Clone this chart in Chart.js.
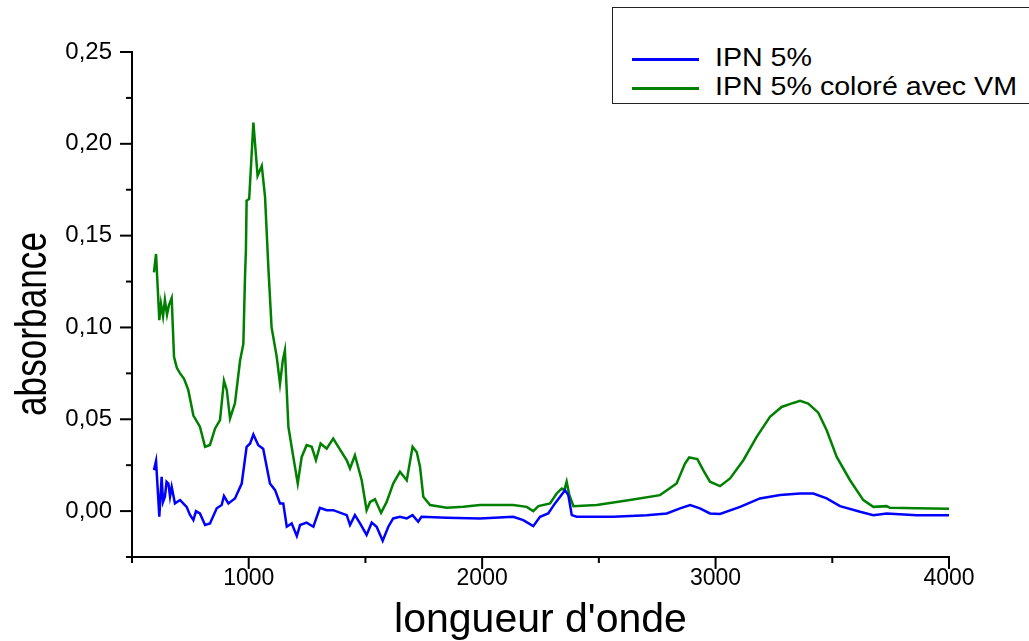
<!DOCTYPE html>
<html>
<head>
<meta charset="utf-8">
<script src="https://cdn.jsdelivr.net/npm/chart.js@4/dist/chart.umd.min.js"></script>
<style>
  body { margin: 0; background: #fff; overflow: hidden; }
  #wrap { position: relative; width: 1029px; height: 641px; }
  #legend {
    position: absolute; left: 612px; top: 7px; width: 440px; height: 97px;
    border: 1px solid #222; background: #fff; box-sizing: border-box;
    padding-top: 37px; font-family: "Liberation Sans", Arial, sans-serif; font-size: 26px;
  }
  .row { display: flex; align-items: center; height: 29px; }
  .swatch { margin-left: 19px; width: 67px; height: 3px; margin-right: 16px; }
  .label { position: relative; top: -2px; display: inline-block; transform: scaleX(1.1); transform-origin: left center; white-space: nowrap; }
</style>
</head>
<body>
<div id="wrap">
  <canvas id="chart" width="1029" height="641"></canvas>
  <div id="legend"></div>
</div>
<script>
// ---- data ----
const seriesNames = ["IPN 5%", "IPN 5% coloré avec VM"];
const seriesColors = ["#0000ff", "#008000"];

const ipnX = [594, 603, 617, 627, 633, 641, 648, 656, 663, 670,
  684, 706, 734, 748, 763, 774, 791, 813, 834, 863,
  884, 894, 913, 941, 970, 991, 1006, 1020, 1041, 1062,
  1091, 1113, 1134, 1148, 1163, 1184, 1206, 1220, 1248, 1277,
  1305, 1334, 1362, 1420, 1434, 1455, 1477, 1505, 1527, 1548,
  1574, 1598, 1619, 1648, 1677, 1702, 1726, 1740, 1848, 1991,
  2133, 2176, 2219, 2248, 2283, 2312, 2334, 2355, 2369, 2384,
  2405, 2562, 2705, 2791, 2848, 2891, 2933, 2976, 3019, 3105,
  3190, 3276, 3362, 3419, 3476, 3533, 3619, 3676, 3733, 3862, 4000];
const ipnY = [0.0223, 0.0273, -0.003, 0.0186, 0.005, 0.0078, 0.016, 0.015, 0.008, 0.0132,
  0.0042, 0.006, 0.0023, -0.002, -0.0049, 0.000, -0.0013, -0.0076, -0.0067, 0.0015,
  0.0033, 0.0082, 0.0042, 0.0069, 0.015, 0.035, 0.0368, 0.0417, 0.0359, 0.034,
  0.015, 0.0114, 0.0042, 0.0042, -0.0085, -0.0067, -0.0136, -0.0076, -0.0063, -0.0085,
  0.0018, 0.0005, 0.0005, -0.0022, -0.0076, -0.0022, -0.0067, -0.013, -0.0063, -0.0085,
  -0.0161, -0.0085, -0.004, -0.0031, -0.004, -0.0022, -0.0058, -0.0031, -0.0036, -0.004,
  -0.0031, -0.0049, -0.0082, -0.0031, -0.0013, 0.0042, 0.0078, 0.0114, 0.0087, -0.0022,
  -0.0031, -0.0031, -0.0022, -0.0013, 0.0015, 0.0033, 0.0015, -0.0013, -0.0016, 0.0023,
  0.0069, 0.0087, 0.0096, 0.0096, 0.0069, 0.0027, -0.0004, -0.0022, -0.0013, -0.0022, -0.0023];

const vmX = [594, 603, 617, 624, 633, 641, 650, 658, 670, 680,
  692, 706, 723, 741, 763, 791, 813, 834, 856, 877,
  894, 906, 920, 941, 963, 977, 984, 988, 991, 1002,
  1020, 1038, 1056, 1070, 1084, 1098, 1120, 1134, 1146, 1155,
  1170, 1191, 1210, 1227, 1248, 1270, 1288, 1308, 1334, 1362,
  1384, 1420, 1434, 1455, 1484, 1505, 1520, 1541, 1567, 1591,
  1619, 1648, 1677, 1702, 1720, 1734, 1748, 1777, 1848, 1919,
  1991, 2062, 2133, 2191, 2219, 2241, 2291, 2319, 2341, 2352,
  2362, 2373, 2391, 2491, 2633, 2762, 2833, 2869, 2887, 2922,
  2947, 2976, 3019, 3062, 3119, 3176, 3233, 3283, 3333, 3362,
  3397, 3440, 3476, 3519, 3576, 3633, 3676, 3733, 3747, 3862, 4000];
const vmY = [0.130, 0.140, 0.104, 0.113, 0.106, 0.115, 0.107, 0.112, 0.116, 0.084,
  0.078, 0.075, 0.072, 0.066, 0.052, 0.046, 0.035, 0.036, 0.045, 0.0495,
  0.071, 0.066, 0.0505, 0.0587, 0.082, 0.091, 0.127, 0.142, 0.169, 0.170,
  0.2116, 0.1826, 0.188, 0.171, 0.133, 0.100, 0.084, 0.0694, 0.082, 0.0875,
  0.0458, 0.0295, 0.015, 0.0295, 0.0359, 0.035, 0.0277, 0.0368, 0.034, 0.0395,
  0.035, 0.0277, 0.0232, 0.0304, 0.0168, 0.0005, 0.005, 0.0064, -0.001, 0.005,
  0.015, 0.0214, 0.0168, 0.035, 0.032, 0.024, 0.0078, 0.0033, 0.0018, 0.0023,
  0.0033, 0.0033, 0.0033, 0.0023, 0.0, 0.0027, 0.0042, 0.0096, 0.0123, 0.0114,
  0.016, 0.009, 0.0027, 0.0033, 0.006, 0.0087, 0.015, 0.0259, 0.0292, 0.0283,
  0.0223, 0.016, 0.0136, 0.0178, 0.0277, 0.0404, 0.0513, 0.0567, 0.0589, 0.060,
  0.0585, 0.0536, 0.044, 0.0295, 0.0168, 0.006, 0.0023, 0.0027, 0.0018, 0.0015, 0.0013];

const xTitle = "longueur d'onde";
const yTitle = "absorbance";
const font = "'Liberation Sans', Arial, sans-serif";

function toPoints(xs, ys) {
  return xs.map((x, i) => ({ x: x, y: ys[i] }));
}

// legend box (top right, runs off the edge like the original)
const legend = document.getElementById("legend");
seriesNames.forEach((name, i) => {
  const row = document.createElement("div");
  row.className = "row";
  row.innerHTML = '<span class="swatch" style="background:' + seriesColors[i] + '"></span><span class="label">' + name + '</span>';
  legend.appendChild(row);
});

// tick marks (major / minor) + rotated y title
const axisDecor = {
  id: "axisDecor",
  afterDraw(chart) {
    const { ctx, chartArea, scales: { x, y } } = chart;
    ctx.save();
    ctx.strokeStyle = "#000";
    ctx.lineWidth = 2;
    x.ticks.forEach(t => {
      const px = x.getPixelForValue(t.value);
      const len = Math.round(t.value) % 1000 === 0 ? 12 : 6;
      ctx.beginPath();
      ctx.moveTo(px, chartArea.bottom);
      ctx.lineTo(px, chartArea.bottom + len);
      ctx.stroke();
    });
    y.ticks.forEach(t => {
      const py = y.getPixelForValue(t.value);
      const len = Math.round(t.value * 1000) % 50 === 0 ? 12 : 6;
      ctx.beginPath();
      ctx.moveTo(chartArea.left, py);
      ctx.lineTo(chartArea.left - len, py);
      ctx.stroke();
    });
    ctx.translate(46, 324);
    ctx.rotate(-Math.PI / 2);
    ctx.scale(0.8, 1);
    ctx.fillStyle = "#000";
    ctx.font = "44px " + font;
    ctx.textAlign = "center";
    ctx.textBaseline = "alphabetic";
    ctx.fillText(yTitle, 0, 0);
    ctx.restore();
  }
};

new Chart(document.getElementById("chart"), {
  type: "line",
  data: {
    datasets: [
      { label: seriesNames[0], data: toPoints(ipnX, ipnY), borderColor: seriesColors[0], borderWidth: 2.5, pointRadius: 0, tension: 0 },
      { label: seriesNames[1], data: toPoints(vmX, vmY), borderColor: seriesColors[1], borderWidth: 2.5, pointRadius: 0, tension: 0 }
    ]
  },
  options: {
    responsive: false,
    animation: false,
    layout: { padding: { top: 52, right: 80, left: 0, bottom: 0 } },
    plugins: { legend: { display: false }, tooltip: { enabled: false } },
    scales: {
      x: {
        type: "linear",
        min: 500, max: 4000,
        grid: { display: false, drawTicks: false },
        border: { display: true, color: "#000", width: 2 },
        ticks: {
          stepSize: 500, autoSkip: false, maxRotation: 0, padding: 8,
          color: "#000", font: { family: font, size: 23 },
          callback: v => (Math.round(v) % 1000 === 0 ? String(v) : "")
        },
        title: {
          display: true, text: xTitle, color: "#000",
          font: { family: font, size: 41, lineHeight: 1 },
          padding: { top: 0, bottom: 0 }
        },
        afterFit: s => { s.height = 84; }
      },
      y: {
        min: -0.025, max: 0.25,
        grid: { display: false, drawTicks: false },
        border: { display: true, color: "#000", width: 2 },
        ticks: {
          stepSize: 0.025, autoSkip: false, padding: 20,
          color: "#000", font: { family: font, size: 24 },
          callback: v => (Math.round(v * 1000) % 50 === 0 ? v.toFixed(2).replace(".", ",") : "")
        },
        afterFit: s => { s.width = 132; }
      }
    }
  },
  plugins: [axisDecor]
});
</script>
</body>
</html>
